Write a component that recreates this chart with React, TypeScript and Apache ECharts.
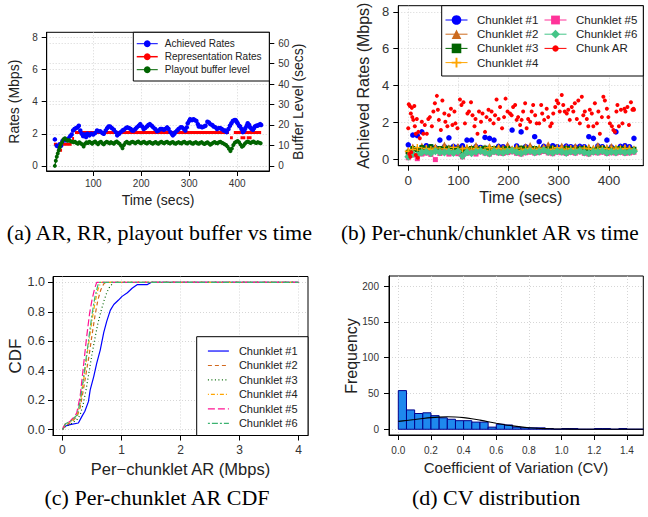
import React, { useEffect, useRef } from 'react';
import * as echarts from 'echarts';

const SANS = "'Liberation Sans', Arial, Helvetica, sans-serif";
const SERIF = "'Liberation Serif', 'Times New Roman', serif";

// ---------- (a) AR, RR, playout buffer vs time ----------
const achievedRates: [number, number][] = [
  [20,1.65],[24,1.25],[27,1.2],[30,1.35],[33,1.25],[36,1.55],[40,1.6],[44,1.6],[48,1.7],[52,1.85],[55,1.95],[58,2.2],[61,2.3],[64,2.35],[67,2.4],[70,2.5],[73,2.2],[76,2.0],[79,1.85],[82,1.95],[85,1.8],[88,2.0],[92,1.9],[96,2.0],[100,1.95],[104,2.05],[108,2.2],[112,2.15],[115,2.15],[119,2.05],[122,2.0],[126,2.2],[129,2.35],[132,2.45],[135,2.45],[139,2.35],[143,2.25],[147,2.1],[150,1.9],[154,2.0],[157,2.1],[161,2.2],[164,2.25],[168,2.35],[171,2.4],[175,2.35],[178,2.3],[181,2.2],[184,2.2],[188,2.3],[191,2.4],[195,2.5],[198,2.6],[202,2.45],[205,2.3],[208,2.35],[212,2.45],[215,2.55],[218,2.6],[222,2.5],[225,2.4],[229,2.3],[233,2.15],[236,2.2],[240,2.3],[243,2.3],[247,2.25],[250,2.3],[254,2.4],[257,2.3],[261,2.1],[264,2.0],[266,1.9],[269,2.0],[271,2.1],[275,2.2],[278,2.3],[282,2.4],[285,2.4],[289,2.3],[292,2.2],[295,2.4],[297,2.65],[300,2.8],[302,2.9],[306,2.85],[309,2.9],[312,2.85],[315,2.8],[318,2.6],[320,2.45],[324,2.45],[327,2.4],[331,2.45],[334,2.5],[338,2.75],[341,2.7],[344,2.6],[348,2.55],[351,2.45],[355,2.4],[358,2.3],[362,2.35],[365,2.35],[368,2.3],[372,2.2],[375,2.2],[378,2.1],[382,2.3],[385,2.5],[388,2.65],[391,2.8],[394,2.85],[397,2.85],[399,2.75],[401,2.65],[404,2.5],[406,2.45],[409,2.3],[412,2.1],[415,2.2],[417,2.35],[420,2.5],[422,2.65],[425,2.55],[427,2.4],[430,2.3],[433,2.25],[435,2.35],[437,2.45],[440,2.5],[442,2.5],[445,2.55],[448,2.6],[450,2.55]
];

// representation rate segments ('-' breaks the line)
const representationRates: [number, number | string][] = [
  [18,1.35],[25,1.35],[25,'-'],[26,0.98],[35,0.98],[35,'-'],[36,1.35],[55,1.35],[55,'-'],
  [56,1.7],[60,1.7],[60,'-'],[62,2.08],[383,2.08],[383,'-'],[385,1.75],[391,1.75],[391,'-'],
  [393,2.08],[450,2.08],[450,'-'],[407,1.75],[417,1.75],[417,'-'],[420,1.75],[430,1.75]
];

const bufferLevel: [number, number][] = [
  [20,0],[22,2.5],[24,4.5],[26,6],[28,7.5],[30,9],[32,10.3],[35,11.5],[38,13],[41,13.5],[44,12.8],[47,12.3],[50,12.5],[53,12],[56,11.8],[59,11.5],[62,11.8],[65,11.2],[68,10.8],[71,11.5],[74,11],[77,10.5],[80,9.5],[83,10.8],[86,11.5],[89,11.2],[92,11.8],[95,11.3],[98,10.8],[101,11.5],[104,11.9],[107,11.2],[110,10.6],[113,11.4],[116,11.8],[119,11],[122,10.5],[125,11.3],[128,11.8],[131,11.4],[134,11],[137,11.6],[140,11.2],[143,10.8],[146,11.5],[149,11.9],[152,11.3],[155,10.8],[158,9.8],[161,8.6],[164,10.2],[167,11.3],[170,11.8],[173,11.2],[176,10.9],[179,11.5],[182,11.8],[185,11.4],[188,11],[191,11.6],[194,11.9],[197,11.3],[200,11],[203,11.5],[206,11.8],[209,11.2],[212,10.9],[215,11.4],[218,11.7],[221,11.2],[224,10.8],[227,11.3],[230,11.7],[233,11.1],[236,10.8],[239,11.4],[242,11.8],[245,11.3],[248,11],[251,11.5],[254,11.8],[257,11.2],[260,10.9],[263,11.4],[266,11.7],[269,11.1],[272,10.8],[275,11.3],[278,11.6],[281,11.2],[284,10.9],[287,11.5],[290,11.8],[293,11.2],[296,10.9],[299,11.4],[302,11.6],[305,11.1],[308,10.8],[311,11.3],[314,11.6],[317,11.1],[320,10.8],[323,11.3],[326,11.6],[329,11],[332,10.7],[335,11.2],[338,11.5],[341,10.9],[344,10.3],[347,10.8],[350,11.3],[353,11.7],[356,11.2],[359,11],[362,11.5],[365,11.8],[368,11.3],[371,11],[374,10.6],[377,10.2],[380,9.4],[383,8.3],[386,7.2],[389,8.5],[392,10.2],[395,11.3],[398,11.8],[401,12.2],[404,11.5],[407,10.4],[410,9.3],[413,9.8],[416,10.8],[419,11.5],[422,11.9],[425,11.5],[428,11.2],[431,11.6],[434,11.9],[437,11.4],[440,11.2],[443,11.6],[446,11.3],[449,11.1]
];

const timeTicksA = [100, 200, 300, 400];
const rateTicksA = [0, 2, 4, 6, 8];
const bufferTicksA = [0, 10, 20, 30, 40, 50, 60];

// ---------- (b) per-chunk / chunklet AR vs time ----------
const chunkletTimes = [0,9,18,27,36,45,54,63,72,81,90,99,108,117,126,135,144,153,162,171,180,189,198,207,216,225,234,243,252,261,270,279,288,297,306,315,324,333,342,351,360,369,378,387,396,405,414,423,432,441,450];
const chunklet1 = [0.8,1.33,1.3,1.5,0.75,0.7,0.65,1.06,0.7,1.18,0.72,0.68,0.75,1.06,1.06,0.7,0.66,1.2,1.15,1.06,0.72,0.7,0.68,1.6,0.74,1.5,0.7,0.66,1.24,0.97,0.72,0.68,0.75,0.7,0.66,0.73,0.7,0.68,0.72,0.7,1.24,1.15,0.74,0.7,1.06,0.68,1.5,0.72,0.75,0.7,1.15];
const chunklet2 = [0.5,0.7,0.6,0.75,0.65,0.62,0.7,0.58,0.8,0.66,0.62,0.72,0.6,0.68,0.64,0.78,0.6,0.66,0.72,0.62,0.7,0.65,0.8,0.6,0.68,0.63,0.72,0.78,0.62,0.66,0.7,0.82,0.64,0.6,0.75,0.68,0.62,0.72,0.66,0.6,0.7,0.64,0.78,0.62,0.68,0.72,0.6,0.66,0.7,0.64,0.6];
const chunklet3 = [0.4,0.6,0.55,0.65,0.58,0.7,0.52,0.6,0.56,0.62,0.5,0.58,0.45,0.55,0.6,0.52,0.58,0.62,0.55,0.6,0.5,0.57,0.6,0.52,0.55,0.62,0.58,0.5,0.6,0.56,0.52,0.58,0.62,0.55,0.5,0.6,0.57,0.52,0.58,0.6,0.55,0.5,0.57,0.62,0.55,0.52,0.58,0.6,0.55,0.5,0.56];
const chunklet4 = [0.45,0.55,0.65,0.5,0.6,0.55,0.62,0.5,0.58,0.54,0.66,0.5,0.58,0.62,0.52,0.6,0.55,0.5,0.64,0.56,0.6,0.52,0.58,0.55,0.62,0.5,0.56,0.6,0.54,0.62,0.58,0.52,0.56,0.64,0.58,0.52,0.6,0.56,0.5,0.62,0.58,0.56,0.52,0.6,0.58,0.54,0.62,0.56,0.6,0.58,0.52];
const chunklet5 = [0.1,0.25,0.05,0.3,0.35,0.28,0.0,0.33,0.4,0.3,0.36,0.32,0.15,0.34,0.38,0.3,0.42,0.35,0.3,0.4,0.36,0.33,0.38,0.42,0.34,0.3,0.37,0.4,0.35,0.38,0.44,0.36,0.32,0.4,0.37,0.33,0.39,0.35,0.42,0.34,0.3,0.38,0.36,0.4,0.33,0.37,0.35,0.39,0.34,0.36,0.4];
const chunklet6 = [0.15,0.3,0.25,0.38,0.42,0.35,0.45,0.4,0.38,0.43,0.36,0.44,0.2,0.4,0.35,0.42,0.47,0.38,0.33,0.45,0.4,0.37,0.44,0.48,0.4,0.35,0.42,0.46,0.39,0.43,0.5,0.41,0.37,0.45,0.42,0.36,0.44,0.4,0.47,0.38,0.35,0.43,0.41,0.46,0.37,0.42,0.39,0.44,0.38,0.41,0.45];

const chunkAR: [number, number][] = [
  [2,0.3],[4,0.15],[6,0.4],[15,0.25],[19,0.1],
  [0,1.7],[1,3.0],[3,2.9],[5,2.5],[7,2.8],[8,2.3],[10,2.15],[12,2.9],[13,1.8],[15,1.4],[17,2.2],[20,1.5],[23,1.15],[27,2.05],[30,1.4],[33,1.87],[37,1.4],[40,2.2],[43,2.3],[47,1.8],[50,2.6],[53,3.05],[57,3.45],[59,2.7],[61,2.15],[65,1.6],[68,3.2],[72,2.5],[74,2.05],[78,1.8],[81,2.4],[85,2.75],[88,1.87],[92,2.6],[94,1.96],[98,1.7],[103,3.25],[106,2.95],[110,3.1],[113,1.96],[118,2.5],[121,2.6],[125,3.1],[128,2.4],[132,1.8],[134,2.2],[138,1.4],[141,2.6],[145,2.05],[148,2.5],[153,1.5],[156,2.3],[160,2.7],[163,2.15],[166,2.6],[170,1.96],[173,2.4],[176,3.25],[180,2.2],[183,2.85],[187,1.7],[191,2.3],[194,3.3],[198,2.6],[203,2.5],[206,2.4],[209,2.85],[213,2.95],[216,2.15],[219,2.3],[223,1.87],[226,2.15],[229,2.6],[233,3.05],[236,1.7],[239,2.2],[243,2.05],[246,2.6],[249,2.95],[253,2.4],[256,1.96],[261,1.96],[265,2.95],[267,2.5],[271,2.15],[276,2.75],[279,2.3],[283,1.8],[286,1.96],[289,2.5],[293,2.85],[296,3.2],[299,3.05],[302,2.6],[306,3.5],[309,2.95],[312,2.6],[316,2.5],[319,2.7],[322,2.15],[326,2.85],[329,2.6],[332,3.05],[336,2.2],[339,3.2],[342,1.96],[346,3.4],[349,2.4],[352,2.6],[356,2.2],[359,1.8],[362,2.7],[366,2.5],[369,1.8],[372,3.05],[376,1.96],[379,2.6],[382,1.4],[386,2.3],[389,3.4],[392,3.2],[396,2.75],[399,2.3],[402,1.96],[406,1.8],[409,1.6],[412,1.5],[415,2.6],[417,2.95],[420,1.8],[424,2.7],[427,1.96],[431,2.75],[433,2.6],[437,2.85],[440,1.87],[444,3.1],[447,2.7],[449,2.75],[450,2.7]
];

const timeTicksB = [0, 100, 200, 300, 400];
const rateTicksB = [0, 2, 4, 6, 8];

// ---------- (c) per-chunklet AR CDF ----------
const cdf1: [number, number][] = [[0,0],[0.04,0.023],[0.13,0.034],[0.27,0.045],[0.33,0.09],[0.38,0.125],[0.44,0.19],[0.47,0.27],[0.53,0.36],[0.58,0.45],[0.64,0.54],[0.7,0.66],[0.75,0.735],[0.81,0.81],[0.87,0.85],[0.95,0.88],[1.01,0.905],[1.1,0.93],[1.18,0.96],[1.27,0.985],[1.44,0.985],[1.5,1.0],[4,1.0]];
const cdf2: [number, number][] = [[0,0],[0.05,0.03],[0.15,0.05],[0.25,0.09],[0.3,0.15],[0.35,0.26],[0.4,0.38],[0.45,0.5],[0.5,0.64],[0.55,0.77],[0.6,0.88],[0.65,0.95],[0.7,0.99],[0.73,1.0],[4,1.0]];
const cdf3: [number, number][] = [[0,0],[0.05,0.02],[0.15,0.04],[0.25,0.07],[0.3,0.1],[0.35,0.17],[0.4,0.27],[0.45,0.39],[0.5,0.51],[0.55,0.62],[0.6,0.72],[0.65,0.8],[0.7,0.87],[0.75,0.93],[0.8,0.97],[0.87,1.0],[4,1.0]];
const cdf4: [number, number][] = [[0,0],[0.05,0.04],[0.15,0.06],[0.25,0.1],[0.3,0.18],[0.35,0.31],[0.4,0.46],[0.45,0.6],[0.5,0.74],[0.55,0.86],[0.6,0.95],[0.65,1.0],[4,1.0]];
const cdf5: [number, number][] = [[0,0],[0.04,0.034],[0.13,0.057],[0.18,0.08],[0.24,0.11],[0.3,0.226],[0.35,0.41],[0.41,0.63],[0.46,0.79],[0.5,0.88],[0.54,0.95],[0.58,1.0],[4,1.0]];
const cdf6: [number, number][] = [[0,0],[0.05,0.04],[0.15,0.06],[0.25,0.1],[0.3,0.19],[0.35,0.33],[0.4,0.48],[0.45,0.63],[0.5,0.78],[0.55,0.9],[0.6,0.98],[0.62,1.0],[4,1.0]];
const arTicksC = [0, 1, 2, 3, 4];
const cdfTicksC = [0, 0.2, 0.4, 0.6, 0.8, 1.0];

// ---------- (d) CV distribution ----------
const cvBinStart = [0,0.05,0.1,0.15,0.2,0.25,0.3,0.35,0.4,0.45,0.5,0.55,0.6,0.65,0.7,0.75,0.8,0.85,0.9,0.95,1.0,1.05,1.1,1.15,1.2,1.25,1.3,1.35,1.4,1.45];
const cvCounts = [54,27,22,23,19,16,14,12,12,10,10,3,7,6,3,2,2,2,1,0,1,1,0,0,1,1,0,1,0,0];
const cvDensity: [number, number][] = [[0,11],[0.05,12.3],[0.1,13.6],[0.15,15],[0.2,16.2],[0.25,17],[0.3,17.4],[0.35,17.2],[0.4,16.3],[0.45,14.8],[0.5,12.8],[0.55,10.6],[0.6,8.4],[0.65,6.4],[0.7,4.7],[0.75,3.3],[0.8,2.2],[0.85,1.4],[0.9,0.9],[0.95,0.5],[1.0,0.3],[1.1,0.1],[1.2,0],[1.5,0]];
const cvTicksD = [0, 0.2, 0.4, 0.6, 0.8, 1.0, 1.2, 1.4];
const freqTicksD = [0, 50, 100, 150, 200];

const BIN_WIDTH = 0.05;

function axis(gridIndex: number, min: number, max: number, ticks: number[], fontSize: number, margin: number, extra: any = {}) {
  return {
    type: 'value', gridIndex, min, max,
    axisLine: { show: true, onZero: false, lineStyle: { color: '#000', width: 1 } },
    axisTick: { show: true, length: 5, customValues: ticks, lineStyle: { color: '#000', width: 1 } },
    axisLabel: { customValues: ticks, fontFamily: SANS, fontSize, color: '#333', margin, ...(extra.label || {}) },
    splitLine: { show: true, lineStyle: { color: '#cccccc', type: [1, 2], width: 0.8 } },
    ...(extra.axis || {}),
  };
}

function lineLegendItem(name: string, width = 1) {
  return { name, lineStyle: { width, opacity: 1 } };
}

function title(text: string, x: number, y: number, fontSize: number, rotate = false) {
  return {
    type: 'text', x, y, rotation: rotate ? Math.PI / 2 : 0, z: 30,
    style: { text, fontFamily: SANS, fontSize, fill: '#222', align: 'center', verticalAlign: 'middle' },
  };
}
function caption(text: string, x: number, y: number, align = 'center', fontSize = 22) {
  return {
    type: 'text', x, y, z: 30,
    style: { text, fontFamily: SERIF, fontSize, fill: '#000', align, verticalAlign: 'middle' },
  };
}
function frame(x: number, y: number, w: number, h: number) {
  return { type: 'rect', z: 10, shape: { x, y, width: w, height: h }, style: { fill: '#fff', stroke: '#000', lineWidth: 1 } };
}

const plus = 'path://M4,0H6V4H10V6H6V10H4V6H0V4H4Z';

function buildOption(): any {
  const zip = (ys: number[]) => chunkletTimes.map((t, i) => [t, ys[i]]);
  const pointLine = (name: string, data: any[], color: string, symbol: string, size: number, xi: number, yi: number) => ({
    name, type: 'line', xAxisIndex: xi, yAxisIndex: yi, data, symbol, symbolSize: size, showSymbol: true, showAllSymbol: true,
    lineStyle: { width: 0, color }, itemStyle: { color }, emphasis: { disabled: true }, silent: true,
  });
  const cdfLine = (name: string, data: any[], color: string, type: any) => ({
    name, type: 'line', xAxisIndex: 2, yAxisIndex: 3, data, symbol: 'circle', showSymbol: false,
    lineStyle: { width: 1.2, color, type }, itemStyle: { color }, emphasis: { disabled: true }, silent: true,
  });
  const cdfLegend = (name: string) => ({ name, lineStyle: { width: 1.2, opacity: 1 }, itemStyle: { opacity: 0 } });

  return {
    animation: false,
    backgroundColor: '#fff',
    grid: [
      { left: 46.7, top: 32.3, width: 222.6, height: 138.7, show: true, borderColor: '#000', borderWidth: 1 },
      { left: 398.3, top: 5.7, width: 245, height: 160, show: true, borderColor: '#000', borderWidth: 1 },
      { left: 53, top: 276.5, width: 255, height: 159, show: true, borderColor: '#000', borderWidth: 1 },
      { left: 389, top: 276, width: 254.3, height: 159, show: true, borderColor: '#000', borderWidth: 1 },
    ],
    xAxis: [
      axis(0, 3, 467, timeTicksA, 10, 7),
      axis(1, -19.9, 468.6, timeTicksB, 13.5, 8),
      axis(2, -0.16, 4.16, arTicksC, 12, 8),
      axis(3, -0.057, 1.5, cvTicksD, 10, 10, { label: { formatter: (v: number) => v.toFixed(1) } }),
    ],
    yAxis: [
      axis(0, -0.32, 8.32, rateTicksA, 10, 9),
      axis(0, -2.51, 65.3, bufferTicksA, 10, 9, { axis: { position: 'right' } }),
      axis(1, -0.33, 8.33, rateTicksB, 13, 9),
      axis(2, -0.04, 1.04, cdfTicksC, 12.5, 8, { label: { formatter: (v: number) => v.toFixed(1) } }),
      axis(3, -8, 214, freqTicksD, 10, 10),
    ],
    legend: [
      {
        orient: 'vertical', left: 136, top: 37.2, padding: 0, itemGap: 0, itemWidth: 21, itemHeight: 8.5, z: 20, selectedMode: false,
        textStyle: { fontFamily: SANS, fontSize: 10, color: '#222', lineHeight: 13, padding: [0, 0, 0, 2] },
        data: [lineLegendItem('Achieved Rates'), lineLegendItem('Representation Rates', 1.5), lineLegendItem('Playout buffer level')],
      },
      {
        orient: 'vertical', left: 445, top: 12.9, padding: 0, itemGap: 0, itemWidth: 22, itemHeight: 12, z: 20, selectedMode: false,
        textStyle: { fontFamily: SANS, fontSize: 11.5, color: '#222', lineHeight: 14.2, padding: [0, 0, 0, 4.5] },
        data: ['Chunklet #1', 'Chunklet #2', 'Chunklet #3', 'Chunklet #4'].map((n) => lineLegendItem(n)),
      },
      {
        orient: 'vertical', left: 544, top: 12.9, padding: 0, itemGap: 0, itemWidth: 22, itemHeight: 11, z: 20, selectedMode: false,
        textStyle: { fontFamily: SANS, fontSize: 11.5, color: '#222', lineHeight: 14.2, padding: [0, 0, 0, 4.5] },
        data: ['Chunklet #5', 'Chunklet #6'].map((n) => lineLegendItem(n)),
      },
      {
        orient: 'vertical', left: 544, top: 41.3, padding: 0, itemGap: 0, itemWidth: 22, itemHeight: 8, z: 20, selectedMode: false,
        textStyle: { fontFamily: SANS, fontSize: 11.5, color: '#222', lineHeight: 14.2, padding: [0, 0, 0, 4.5] },
        data: [lineLegendItem('Chunk AR')],
      },
      {
        orient: 'vertical', left: 207.3, top: 343.8, padding: 0, itemGap: 0, itemWidth: 21, itemHeight: 10, z: 20, selectedMode: false,
        textStyle: { fontFamily: SANS, fontSize: 11, color: '#222', lineHeight: 14.46, padding: [0, 0, 0, 5] },
        data: ['CDF #1', 'CDF #2', 'CDF #3', 'CDF #4', 'CDF #5', 'CDF #6'].map((n) => cdfLegend(n)),
        formatter: (n: string) => n.replace('CDF ', 'Chunklet '),
      },
    ],
    graphic: [
      frame(133.3, 32.3, 136, 48.7),
      frame(441.7, 5.7, 201.6, 70.3),
      frame(196.7, 336.7, 111.3, 98.8),
      title('Rates (Mbps)', 14, 101.7, 14, true),
      title('Buffer Level (secs)', 298.3, 101.7, 14, true),
      title('Time (secs)', 158, 200, 14),
      title('Achieved Rates (Mbps)', 363.3, 85.7, 16, true),
      title('Time (secs)', 520.8, 197, 16),
      title('CDF', 15, 356, 17, true),
      title('Per\u2212chunklet AR (Mbps)', 180.5, 468.5, 16.5),
      title('Frequency', 351.7, 356, 16, true),
      title('Coefficient of Variation (CV)', 516, 467, 15),
      caption('(a) AR, RR, playout buffer vs time', 159.4, 232.6),
      caption('(b) Per-chunk/chunklet AR vs time', 341, 232.6, 'left', 21.3),
      caption('(c) Per-chunklet AR CDF', 157, 497),
      caption('(d) CV distribution', 496, 497),
    ],
    series: [
      // (a)
      pointLine('Achieved Rates', achievedRates, '#0000FF', 'circle', 4.5, 0, 0),
      {
        name: 'Representation Rates', type: 'line', xAxisIndex: 0, yAxisIndex: 0, data: representationRates,
        symbol: 'circle', symbolSize: 5, showSymbol: false, connectNulls: false,
        lineStyle: { width: 3, color: '#FF0000' }, itemStyle: { color: '#FF0000' }, silent: true,
      },
      { ...pointLine('Playout buffer level', bufferLevel, '#006400', 'circle', 4, 0, 1), lineStyle: { width: 1.2, color: '#006400' } },
      // (b)
      pointLine('Chunklet #1', zip(chunklet1), '#0000FF', 'circle', 5.5, 1, 2),
      pointLine('Chunklet #2', zip(chunklet2), '#CC6A1E', 'triangle', 6.5, 1, 2),
      pointLine('Chunklet #3', zip(chunklet3), '#006400', 'rect', 5, 1, 2),
      pointLine('Chunklet #4', zip(chunklet4), '#FFA500', plus, 7, 1, 2),
      pointLine('Chunklet #5', zip(chunklet5), '#FF3399', 'rect', 5, 1, 2),
      pointLine('Chunklet #6', zip(chunklet6), '#45C588', 'diamond', 8, 1, 2),
      pointLine('Chunk AR', chunkAR, '#FF0000', 'circle', 4, 1, 2),
      // (c)
      cdfLine('CDF #1', cdf1, '#0000FF', 'solid'),
      cdfLine('CDF #2', cdf2, '#D2691E', [4, 3]),
      cdfLine('CDF #3', cdf3, '#006400', [1, 2.5]),
      cdfLine('CDF #4', cdf4, '#FFA500', [1, 2, 4, 2]),
      cdfLine('CDF #5', cdf5, '#FF1493', [7, 3]),
      cdfLine('CDF #6', cdf6, '#3CB371', [2, 2, 6, 2]),
      // (d)
      {
        name: 'CV histogram', type: 'custom', xAxisIndex: 3, yAxisIndex: 4, silent: true,
        data: cvBinStart.map((s, i) => [s, s + BIN_WIDTH, cvCounts[i]]),
        encode: { x: [0, 1], y: 2 },
        renderItem: (params: any, api: any) => {
          const p0 = api.coord([api.value(0), 0]);
          const p1 = api.coord([api.value(1), api.value(2)]);
          return {
            type: 'rect',
            shape: { x: p0[0], y: p1[1], width: p1[0] - p0[0], height: p0[1] - p1[1] },
            style: { fill: '#1E88EE', stroke: '#00008B', lineWidth: 1 },
          };
        },
      },
      {
        name: 'CV density', type: 'line', xAxisIndex: 3, yAxisIndex: 4, data: cvDensity, symbol: 'none', smooth: 0.3,
        lineStyle: { width: 1.1, color: '#000' }, silent: true, z: 3,
      },
    ],
  };
}

export default function App() {
  const ref = useRef<HTMLDivElement>(null);
  useEffect(() => {
    const chart = echarts.init(ref.current!, null, { renderer: 'svg' });
    chart.setOption(buildOption());
    return () => chart.dispose();
  }, []);
  return (
    <div
      ref={ref}
      style={{ position: 'fixed', left: 0, top: 0, width: 648, height: 517, background: '#fff' }}
    />
  );
}
